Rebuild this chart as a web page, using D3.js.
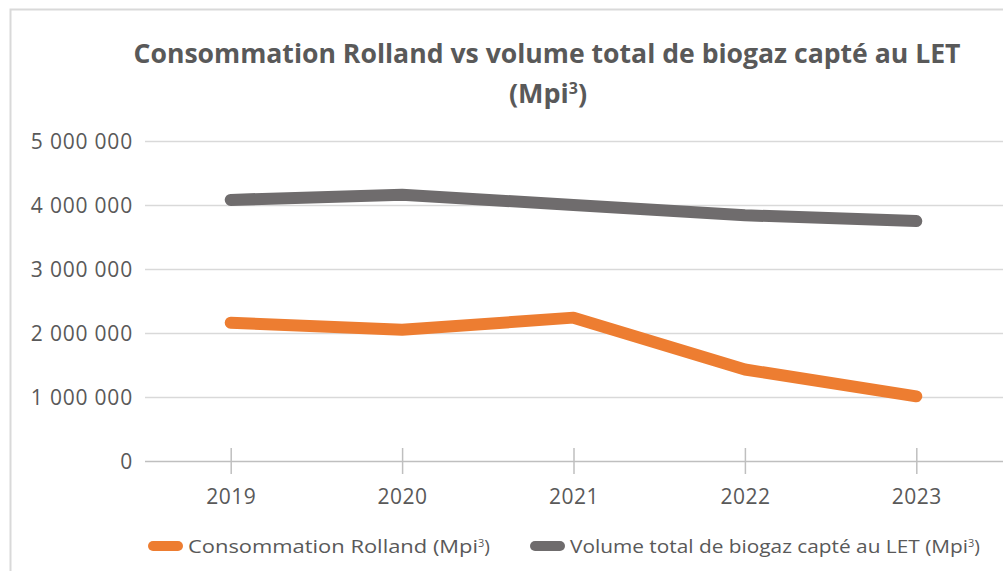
<!DOCTYPE html>
<html>
<head>
    <meta charset="utf-8">
    <script src="https://cdn.jsdelivr.net/npm/d3@7"></script>
    <style>
        body { margin: 0; background: #fff; }
        text { font-family: "Open Sans", sans-serif; fill: #595959; }
    </style>
</head>
<body>
    <div id="viz"></div>

    <script type="text/javascript">

    // data
    var years = ["2019", "2020", "2021", "2022", "2023"];
    var rolland = [2160000, 2050000, 2240000, 1430000, 1010000];
    var biogaz = [4080000, 4160000, 4000000, 3840000, 3750000];
    var yTicks = [0, 1000000, 2000000, 3000000, 4000000, 5000000];
    var seriesNames = ["Consommation Rolland (Mpi", "Volume total de biogaz capté au LET (Mpi"];
    var seriesColors = ["#ed7d31", "#6f6c6d"];

    var W = 1003, H = 571;

    var svg = d3.select("#viz")
        .append("svg")
        .attr("width", W)
        .attr("height", H);

    // chart frame (only top and left edges visible)
    svg.append("rect")
        .attr("x", 10.5)
        .attr("y", 9.5)
        .attr("width", 1010)
        .attr("height", 600)
        .style("fill", "none")
        .style("stroke", "#d9d9d9")
        .style("stroke-width", 2);

    // title
    svg.append("text")
        .attr("x", 547)
        .attr("y", 63)
        .attr("text-anchor", "middle")
        .attr("textLength", 827)
        .attr("lengthAdjust", "spacingAndGlyphs")
        .style("font-size", "27px")
        .style("font-weight", "bold")
        .text("Consommation Rolland vs volume total de biogaz capté au LET");

    var t2 = svg.append("text")
        .attr("x", 548)
        .attr("y", 103)
        .attr("text-anchor", "middle")
        .style("font-size", "27px")
        .style("font-weight", "bold");
    t2.append("tspan").text("(Mpi");
    t2.append("tspan").attr("dy", -9).style("font-size", "16px").text("3");
    t2.append("tspan").attr("dy", 9).text(")");

    var x = d3.scalePoint()
        .domain(years)
        .range([145, 1002])
        .padding(0.5);

    var y = d3.scaleLinear()
        .domain([0, 5000000])
        .range([461, 141]);

    var fr = d3.formatLocale({ thousands: "\u00a0", grouping: [3], decimal: ",", currency: ["", ""] });
    var fmt = fr.format(",");

    // gridlines + y labels
    var yAxis = svg.append("g")
        .attr("transform", "translate(145,0)")
        .call(d3.axisLeft(y).tickValues(yTicks).tickSize(-(W - 145)).tickPadding(12).tickFormat(fmt));
    yAxis.select(".domain").remove();
    yAxis.selectAll(".tick line")
        .style("stroke", function(d){ return d === 0 ? "#bfbfbf" : "#d9d9d9"; })
        .style("stroke-width", 1.5);
    yAxis.selectAll(".tick text")
        .style("font-size", "21px")
        .style("fill", "#595959")
        .style("letter-spacing", "0.8px")
        .attr("dy", "0.35em");

    // x axis with crossing ticks
    var xAxis = svg.append("g")
        .attr("transform", "translate(0," + y(0) + ")")
        .call(d3.axisBottom(x).tickSizeInner(13).tickSizeOuter(0).tickPadding(15));
    xAxis.select(".domain").remove();
    xAxis.selectAll(".tick line")
        .attr("y1", -13)
        .style("stroke", "#bfbfbf")
        .style("stroke-width", 1.5);
    xAxis.selectAll(".tick text")
        .style("font-size", "21px")
        .style("letter-spacing", "0.5px")
        .style("fill", "#595959");

    var line = d3.line()
        .x(function(d, i){ return x(years[i]); })
        .y(function(d){ return y(d); });

    [biogaz, rolland].forEach(function(s, k){
        svg.append("path")
            .datum(s)
            .attr("d", line)
            .style("fill", "none")
            .style("stroke", seriesColors[1 - k])
            .style("stroke-width", 12)
            .style("stroke-linecap", "round")
            .style("stroke-linejoin", "round");
    });

    // legend
    var legendX = [153, 535];
    var legendLen = [290, 398];
    seriesNames.forEach(function(name, i){
        svg.append("line")
            .attr("x1", legendX[i])
            .attr("x2", legendX[i] + 25)
            .attr("y1", 546)
            .attr("y2", 546)
            .style("stroke", seriesColors[i])
            .style("stroke-width", 10)
            .style("stroke-linecap", "round");
        var t = svg.append("text")
            .attr("x", legendX[i] + 35)
            .attr("y", 553)
            .style("font-size", "19px");
        t.append("tspan")
            .attr("textLength", legendLen[i])
            .attr("lengthAdjust", "spacingAndGlyphs")
            .text(name);
        t.append("tspan").attr("dy", -6).style("font-size", "11px").text("3");
        t.append("tspan").attr("dy", 6).text(")");
    });

    </script>
</body>
</html>
